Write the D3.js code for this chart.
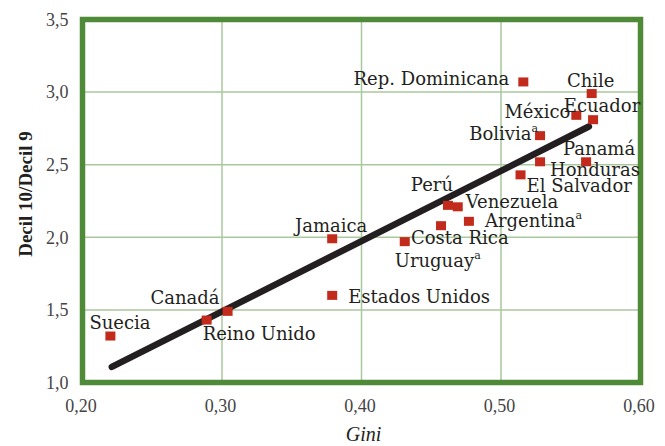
<!DOCTYPE html>
<html>
<head>
<meta charset="utf-8">
<script src="https://cdn.jsdelivr.net/npm/d3@7"></script>
<style>
  html, body { margin: 0; padding: 0; background: #fff; }
  svg { display: block; }
</style>
</head>
<body>
<svg id="chart" width="665" height="446"></svg>
<script>
// ---- data ----
const countries = ["Suecia","Reino Unido","Canadá","Jamaica","Estados Unidos","Uruguay","Costa Rica","Argentina","Perú","Venezuela","El Salvador","Honduras","Panamá","Bolivia","México","Ecuador","Chile","Rep. Dominicana"];
const gini =      [0.220, 0.289, 0.304, 0.379, 0.379, 0.431, 0.457, 0.477, 0.462, 0.469, 0.514, 0.528, 0.561, 0.528, 0.554, 0.566, 0.565, 0.516];
const ratio =     [1.32,  1.43,  1.49,  1.99,  1.60,  1.97,  2.08,  2.11,  2.22,  2.21,  2.43,  2.52,  2.52,  2.70,  2.84,  2.81,  2.99,  3.07];
const footnote =  ["", "", "", "", "", "a", "", "a", "", "", "", "", "", "a", "", "", "", ""];
const trendGini = [0.221, 0.563];
const trendRatio = [1.107, 2.763];
const xTicks = [0.20, 0.30, 0.40, 0.50, 0.60];
const yTicks = [1.0, 1.5, 2.0, 2.5, 3.0, 3.5];
const xTitle = "Gini";
const yTitle = "Decil 10/Decil 9";

// label placement (anchor, dx, dy) per country
const labelPlace = [
  ["start", -21, -7], ["start", -4, 20], ["end", -8, -7], ["middle", -1, -7],
  ["start", 16, 8], ["start", -10, 25], ["start", -30, 18], ["start", 16, 6],
  ["end", 5, -14], ["start", 8, 1], ["start", 6, 17], ["start", 10, 14],
  ["middle", 13, -7], ["end", -2, 4], ["end", -6, 3], ["middle", 9, -8],
  ["middle", -1, -7], ["end", -14, 3]
];

// ---- chart ----
const svg = d3.select("#chart");
const x = d3.scaleLinear().domain([0.2, 0.6]).range([82.5, 640.5]);
const y = d3.scaleLinear().domain([1.0, 3.5]).range([382.5, 19.5]);

const grid = "#a9c99c", frame = "#4e8a38", red = "#c22a1c", ink = "#231f20";

// gridlines
svg.append("g").selectAll("line").data(xTicks.slice(1, -1)).join("line")
  .attr("x1", d => x(d)).attr("x2", d => x(d)).attr("y1", y(3.5)).attr("y2", y(1.0))
  .attr("stroke", grid).attr("stroke-width", 1.5);
svg.append("g").selectAll("line").data(yTicks.slice(1, -1)).join("line")
  .attr("y1", d => y(d)).attr("y2", d => y(d)).attr("x1", x(0.2)).attr("x2", x(0.6))
  .attr("stroke", grid).attr("stroke-width", 1.5);

// axes (labels only)
const xAxis = svg.append("g").attr("transform", `translate(0,${y(1.0)})`)
  .call(d3.axisBottom(x).tickValues(xTicks).tickSize(0).tickPadding(17)
    .tickFormat(d => d.toFixed(2).replace(".", ",")));
const yAxis = svg.append("g").attr("transform", `translate(${x(0.2)},0)`)
  .call(d3.axisLeft(y).tickValues(yTicks).tickSize(0).tickPadding(14)
    .tickFormat(d => d.toFixed(1).replace(".", ",")));
[xAxis, yAxis].forEach(g => {
  g.select(".domain").remove();
  g.selectAll("text").attr("font-family", "'Liberation Serif', serif")
    .attr("font-size", 18).attr("fill", "#444");
});
xAxis.selectAll("text").attr("dx", -2);

// frame
svg.append("rect")
  .attr("x", x(0.2)).attr("y", y(3.5))
  .attr("width", x(0.6) - x(0.2)).attr("height", y(1.0) - y(3.5))
  .attr("fill", "none").attr("stroke", frame).attr("stroke-width", 5.5);

// trend line
svg.append("line")
  .attr("x1", x(trendGini[0])).attr("y1", y(trendRatio[0]))
  .attr("x2", x(trendGini[1])).attr("y2", y(trendRatio[1]))
  .attr("stroke", ink).attr("stroke-width", 6.5).attr("stroke-linecap", "round");

// points
const idx = d3.range(countries.length);
svg.append("g").selectAll("rect").data(idx).join("rect")
  .attr("x", i => x(gini[i]) - 5).attr("y", i => y(ratio[i]) - 4.5)
  .attr("width", 10).attr("height", 9).attr("fill", red);

// labels
const labels = svg.append("g").selectAll("text").data(idx).join("text")
  .attr("x", i => x(gini[i]) + labelPlace[i][1])
  .attr("y", i => y(ratio[i]) + labelPlace[i][2])
  .attr("text-anchor", i => labelPlace[i][0])
  .attr("font-family", "'DejaVu Serif', serif")
  .attr("font-size", 18).attr("fill", ink);
labels.append("tspan").text(i => countries[i]);
labels.filter(i => footnote[i]).append("tspan")
  .attr("font-size", 11).attr("dy", -8).text(i => footnote[i]);

// titles
svg.append("text").attr("x", (x(0.2) + x(0.6)) / 2 + 2).attr("y", 441)
  .attr("text-anchor", "middle").attr("font-family", "'Liberation Serif', serif")
  .attr("font-style", "italic").attr("font-size", 20).attr("fill", ink).text(xTitle);
svg.append("text").attr("transform", "translate(32,194) rotate(-90)")
  .attr("text-anchor", "middle").attr("font-family", "'Liberation Serif', serif")
  .attr("font-weight", "bold").attr("font-size", 19).attr("fill", ink).text(yTitle);
</script>
</body>
</html>
